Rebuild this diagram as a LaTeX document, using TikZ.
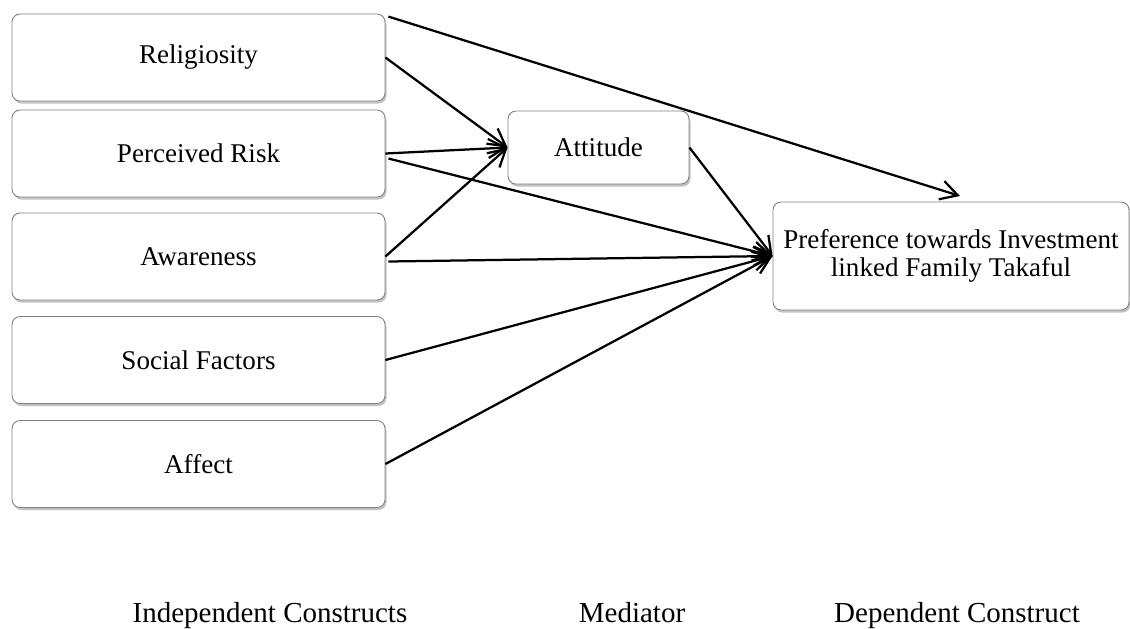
\documentclass[tikz,border=0pt]{standalone}
\usepackage{fontspec}
\setmainfont{Liberation Serif}
\usetikzlibrary{arrows.meta,calc,shadows}

\tikzset{
  construct/.style={draw=black!50, line width=0.5pt, rounded corners=1.6mm, fill=white,
    drop shadow={shadow xshift=0.3mm, shadow yshift=-0.5mm, opacity=0.4, fill=black!60},
    align=center, inner sep=0pt, font=\fontsize{15.4}{15.8}\selectfont},
  link/.style={line width=0.45mm, -{Straight Barb[length=3.4mm,width=3.8mm]}},
  caption/.style={anchor=base, font=\fontsize{16.5}{18}\selectfont}
}

\begin{document}
\begin{tikzpicture}[x=0.2mm,y=-0.2mm]
    \useasboundingbox (0,0) rectangle (1130,628);
    \begin{scope}[every node/.style={construct, minimum width=74.6mm, minimum height=17.4mm}]
    % Independent constructs:
    \node (rel)    at (198.5,57.5)  {Religiosity};
    \node (risk)   at (198.5,153.5) {Perceived Risk};
    \node (aware)  at (198.5,256.5) {Awareness};
    \node (social) at (198.5,360)   {Social Factors};
    \node (affect) at (198.5,464)   {Affect};
    \end{scope}

    % Mediator and dependent construct:
    \node[construct, minimum width=36.2mm, minimum height=14.6mm] (att) at (598.5,147.5) {Attitude};
    \node[construct, minimum width=71.2mm, minimum height=21.6mm] (pref) at (951,256)
        {Preference towards Investment\\linked Family Takaful};

    %\draw [dashed] (att.south) -- (att.south |- 0,520);

    % Paths:
    \coordinate (tip) at (960,196);
    \draw[link] ($(rel.north east)+(3,3)$) -- (tip);
    \draw[link] (rel.east) -- (att.west);
    \draw[link] (risk.east) -- (att.west);
    \draw[link] (aware.east) -- (att.west);
    \draw[link] ($(risk.east)+(3,5)$) -- (pref.west);
    \draw[link] ($(aware.east)+(3,5)$) -- (pref.west);
    \draw[link] (social.east) -- (pref.west);
    \draw[link] (affect.east) -- (pref.west);
    \draw[link] (att.east) -- (pref.west);

    % Captions:
    \node[caption] (indep) at (270,622) {Independent Constructs};
    \node[caption] (med)   at (632,622) {Mediator};
    \node[caption] (dep)   at (957,622) {Dependent Construct};
\end{tikzpicture}
\end{document}
